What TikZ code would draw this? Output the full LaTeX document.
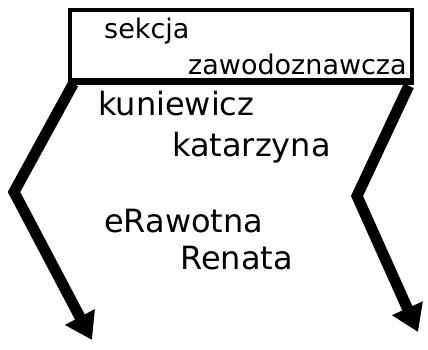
\documentclass[tikz,border=0pt]{standalone}
\usepackage{fontspec}
\setmainfont{DejaVu Sans}
\usetikzlibrary{arrows.meta,calc}

\begin{document}
\begin{tikzpicture}[x=1pt,y=-1pt,
  hand/.style={font=\fontsize{32}{34}\selectfont,inner sep=0pt,anchor=west},
  boxtext/.style={hand,font=\fontsize{27}{29}\selectfont},
  bigarrow/.style={line width=11pt,line join=miter,-{Triangle[length=26pt,width=32pt]}}]
\useasboundingbox (0,0) rectangle (428,350);

% box
\node[draw,line width=3.5pt,minimum width=342pt,minimum height=70pt,inner sep=0pt]
  (box) at (241,45) {};
\draw[line width=6pt] (box.south west) -- (box.south east);

% labels
\node[boxtext] (sekcja) at (104,31) {sekcja};
\node[boxtext] (zawod) at (188,64) {zawodoznawcza};

\node[hand] (kun) at (98,104) {kuniewicz};
\node[hand] (kat) at (172,148) {katarzyna};

\node[hand] (era) at (104,221) {eRawotna};
\node[hand] (ren) at (180,258) {Renata};

% arrows
\coordinate (lbend) at (14,192);
\coordinate (lend) at (92,340);
\coordinate (rbend) at (357,196);
\coordinate (rend) at (418,332);
\draw[bigarrow] ($(box.south west)+(5,2)$) -- (lbend) -- (lend);
\draw[bigarrow] ($(box.south east)+(-5,4)$) -- (rbend) -- (rend);

\end{tikzpicture}
\end{document}
